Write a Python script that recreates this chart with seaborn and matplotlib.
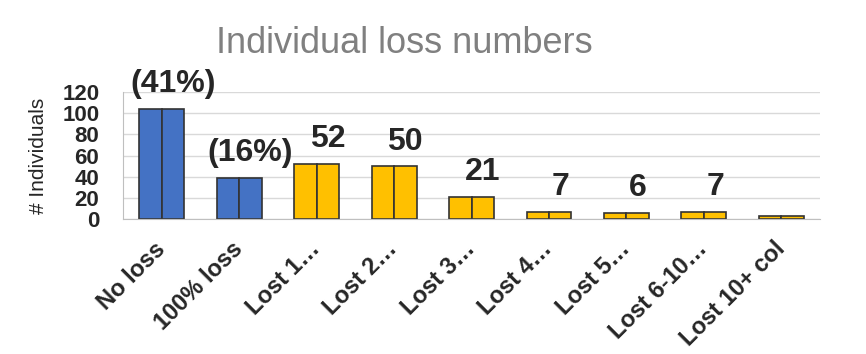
import seaborn as sns
import pandas as pd
import matplotlib.pyplot as plt

categories = ["No loss", "100% loss", "Lost 1\u2026", "Lost 2\u2026", "Lost 3\u2026",
              "Lost 4\u2026", "Lost 5\u2026", "Lost 6-10\u2026", "Lost 10+ col"]
counts = [104, 39, 52, 50, 21, 7, 6, 7, 3]
bar_labels = ["(41%)", "(16%)", "52", "50", "21", "7", "6", "7", ""]
groups = ["all", "all", "part", "part", "part", "part", "part", "part", "part"]

blue = "#4472C4"
gold = "#FFC000"
grid_grey = "#d9d9d9"

sns.set_style("white")
plt.rcParams["font.family"] = ["Liberation Sans", "DejaVu Sans"]

# every bar is drawn as two halves side by side (hence the line in the middle)
rows = []
for c, v, g in zip(categories, counts, groups):
    for half in ["L", "R"]:
        rows.append({"category": c, "value": v, "half": half, "group": g})
df = pd.DataFrame(rows)

fig = plt.figure(figsize=(8.66, 3.54), dpi=100)
ax = fig.add_axes([0.142, 0.381, 0.805, 0.359])

for g, col in [("all", blue), ("part", gold)]:
    sns.barplot(data=df[df["group"] == g], x="category", y="value", hue="half",
                order=categories, palette={"L": col, "R": col}, width=0.58, gap=0,
                saturation=1, edgecolor="#333333", linewidth=1.2, legend=False, ax=ax)

ax.set_xlim(-0.5, len(categories) - 0.5)
ax.set_ylim(0, 120)
ax.set_yticks(range(0, 121, 20))
ax.yaxis.grid(True, color=grid_grey, linewidth=1)
ax.set_axisbelow(True)
for s in ["top", "right"]:
    ax.spines[s].set_visible(False)
for s in ["left", "bottom"]:
    ax.spines[s].set_color("#bfbfbf")

ax.tick_params(axis="y", length=6, color=grid_grey, pad=11, labelsize=16)
for t in ax.get_yticklabels():
    t.set_fontweight("bold")

# ticks between categories
ax.set_xticks([i - 0.5 for i in range(len(categories) + 1)], minor=True)
ax.tick_params(axis="x", which="minor", length=6, color="#bfbfbf")
ax.tick_params(axis="x", which="major", length=0, pad=19)
ax.set_xticks(range(len(categories)))
ax.set_xticklabels(categories, rotation=45, ha="right", va="center",
                   rotation_mode="anchor", fontsize=17, fontweight="bold")

ax.set_xlabel("")
ax.set_ylabel("# Individuals", fontsize=15, labelpad=10)

for i, (v, lab) in enumerate(zip(counts, bar_labels)):
    ax.annotate(lab, (i + 0.145, v), xytext=(0, 12), textcoords="offset points",
                ha="center", va="baseline", fontsize=23, fontweight="bold")

fig.text(404 / 866, 1 - 53 / 354, "Individual loss numbers", ha="center",
         va="baseline", fontsize=26, color="#808080")

fig.savefig("out.png", dpi=100)
